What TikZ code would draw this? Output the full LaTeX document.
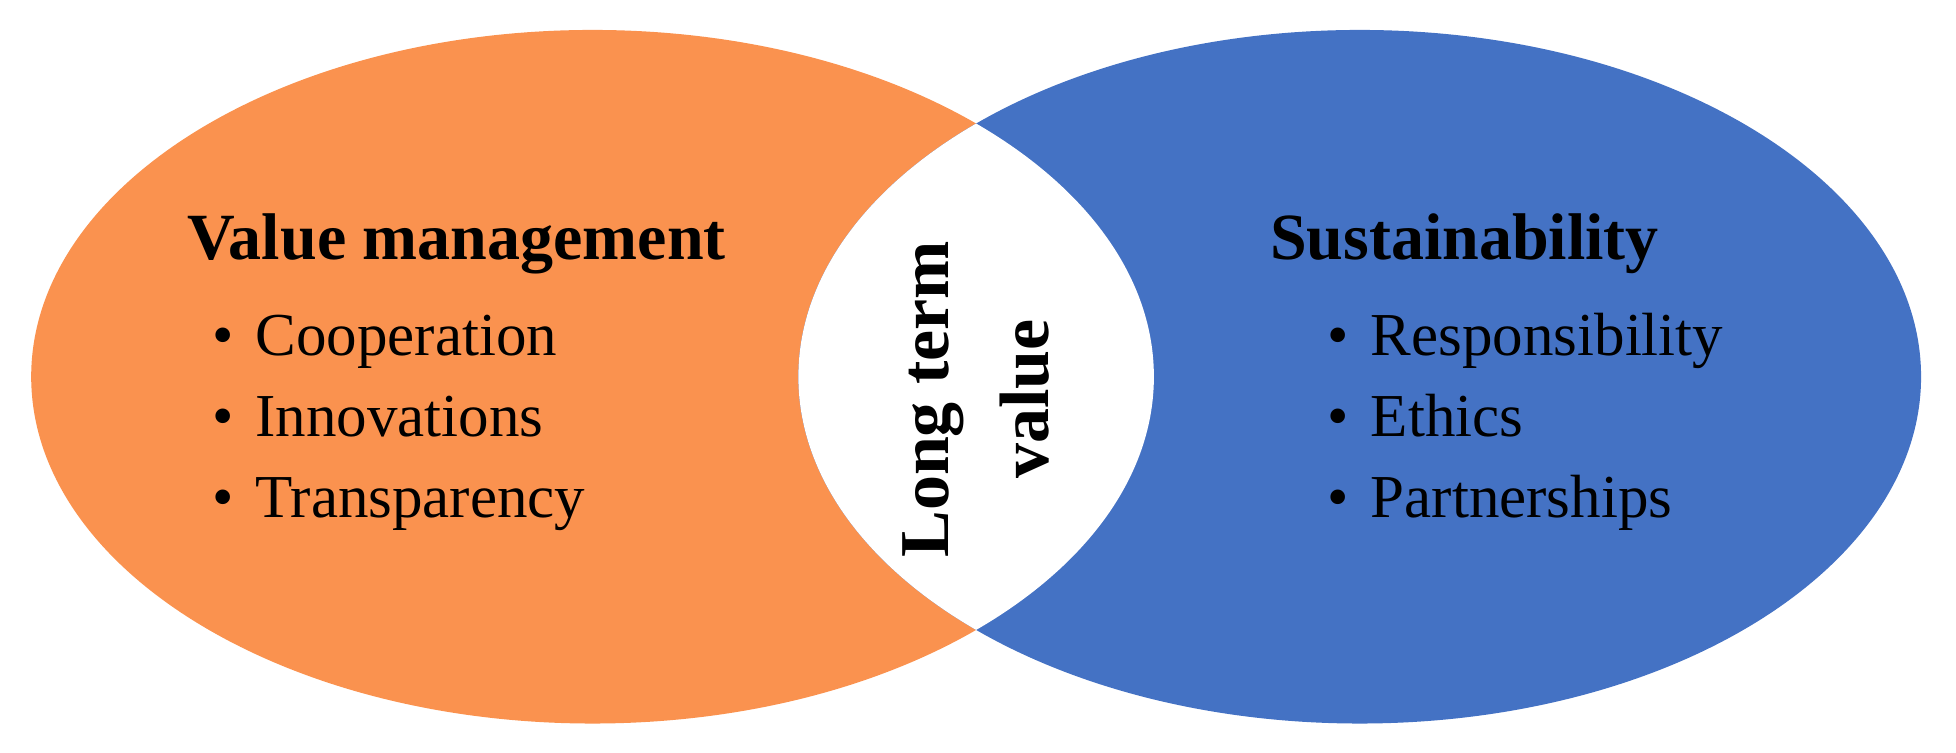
\documentclass[tikz,border=0pt]{standalone}
\usepackage{fontspec}
\setmainfont{Liberation Serif}
\definecolor{vmorange}{RGB}{250,146,79}
\definecolor{sblue}{RGB}{68,114,196}
\begin{document}
\begin{tikzpicture}[x=1.2474pt,y=-1.2474pt,
  head/.style={anchor=base west,font=\fontsize{66}{72}\selectfont\bfseries,inner sep=0},
  item/.style={anchor=base west,font=\fontsize{61}{66}\selectfont,inner sep=0}]
\useasboundingbox (0,0) rectangle (1568,603);
\fill[vmorange] (475,302) ellipse [x radius=450, y radius=278];
\fill[sblue] (1090,302) ellipse [x radius=450, y radius=278];
\begin{scope}
\clip (475,302) ellipse [x radius=450, y radius=278];
\fill[white] (1090,302) ellipse [x radius=450, y radius=278];
\end{scope}
\node[head] (vm) at (150,208) {Value management};
\node[item] (c1) at (170,285) {•\hspace{22pt}Cooperation};
\node[item] (c2) at (170,350) {•\hspace{22pt}Innovations};
\node[item] (c3) at (170,415) {•\hspace{22pt}Transparency};
\node[head] (su) at (1018,208) {Sustainability};
\node[item] (s1) at (1064,285) {•\hspace{22pt}Responsibility};
\node[item] (s2) at (1064,350) {•\hspace{22pt}Ethics};
\node[item] (s3) at (1064,415) {•\hspace{22pt}Partnerships};
\node[rotate=90,align=center,font=\fontsize{70}{100}\selectfont\bfseries] (lt) at (782,320) {Long term\\value};
\end{tikzpicture}
\end{document}
